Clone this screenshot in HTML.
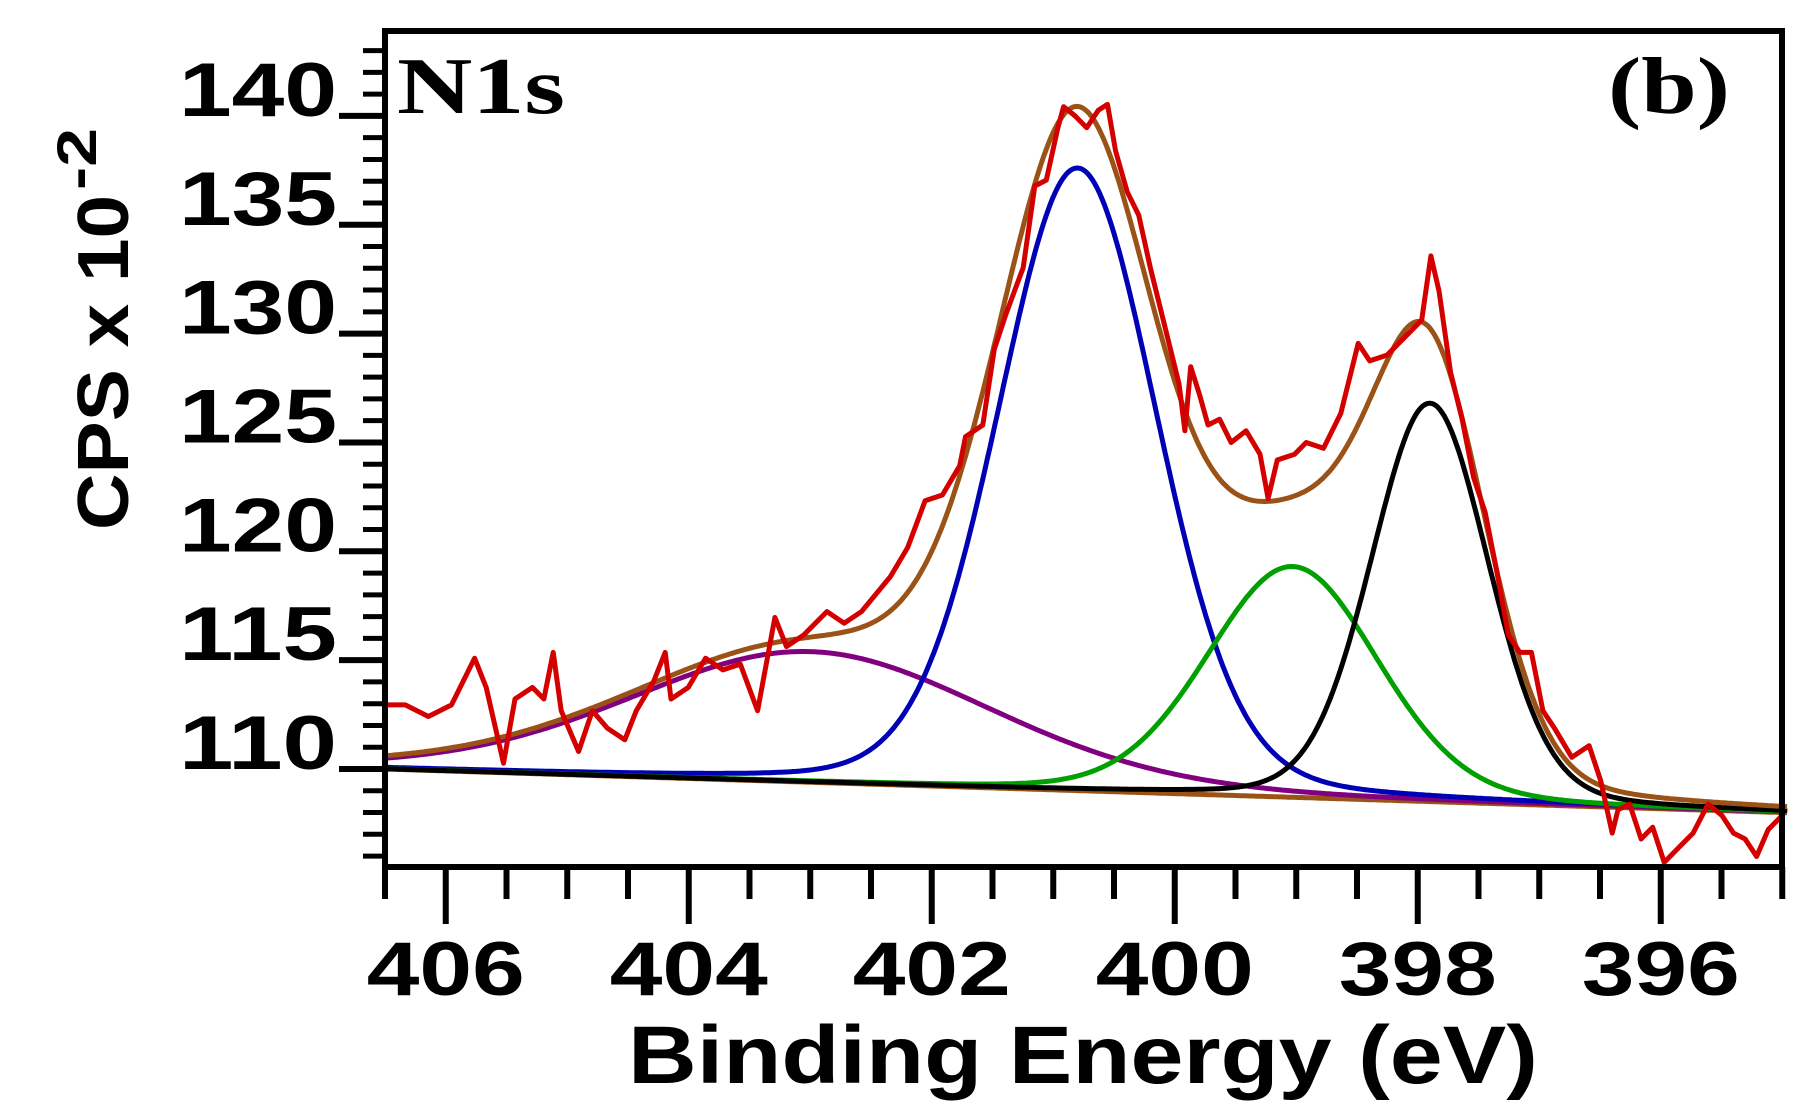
<!DOCTYPE html>
<html><head><meta charset="utf-8"><style>
html,body{margin:0;padding:0;background:#fff;}
svg{display:block;}
</style></head><body>
<svg id="s" width="1807" height="1119" xmlns="http://www.w3.org/2000/svg">
<rect width="1807" height="1119" fill="#fff"/>
<g id="curves"></g>
<g id="axes"></g>
<text x="397" y="113" textLength="168" lengthAdjust="spacingAndGlyphs" font-family="Liberation Serif, serif" font-weight="bold" font-size="80" fill="#000">N1s</text>
<text x="1608" y="113" textLength="122" lengthAdjust="spacingAndGlyphs" font-family="Liberation Serif, serif" font-weight="bold" font-size="80" fill="#000">(b)</text>
<g transform="translate(128,530) rotate(-90)">
<text x="0" y="0" textLength="335" lengthAdjust="spacingAndGlyphs" font-family="Liberation Sans, sans-serif" font-weight="bold" font-size="72" fill="#000">CPS x 10</text>
<text x="340" y="-32" textLength="62" lengthAdjust="spacingAndGlyphs" font-family="Liberation Sans, sans-serif" font-weight="bold" font-size="56" fill="#000">-2</text>
</g>
<text x="628" y="1083" textLength="910" lengthAdjust="spacingAndGlyphs" font-family="Liberation Sans, sans-serif" font-weight="bold" font-size="82" fill="#000">Binding Energy (eV)</text>
</svg>
<script>
var L=385,R=1782,T=31,B=867;
function X(x){return L+(406.5-x)*121.5;}
function Y(y){return 769-(y-110)*21.77;}
function base(x){return 110.0-(406.5-x)*(2.0/11.5);}
function pv(x,c,h,w){var s=w/2.355,g=Math.exp(-0.5*Math.pow((x-c)/s,2)),l=1/(1+Math.pow((x-c)/(w/2),2));return h*(0.85*g+0.15*l);}
var comps=[
 {c:403.0,h:6.0,w:3.5,col:"#800080"},
 {c:400.8,h:28.6,w:1.55,col:"#0000b4"},
 {c:399.03,h:10.6,w:1.66,col:"#00a000"},
 {c:397.9,h:18.3,w:1.14,col:"#000000"}
];
var NS="http://www.w3.org/2000/svg";
var cg=document.getElementById('curves');
function path(pts,col,w){var p=document.createElementNS(NS,'path');var d='';pts.forEach(function(q,i){d+=(i?'L':'M')+q[0].toFixed(1)+' '+q[1].toFixed(1);});p.setAttribute('d',d);p.setAttribute('stroke',col);p.setAttribute('stroke-width',w);p.setAttribute('fill','none');p.setAttribute('stroke-linejoin','round');cg.appendChild(p);}
var xs=[];for(var x=406.5;x>=394.95;x-=0.02)xs.push(x);
path(xs.map(function(x){return [X(x),Y(base(x))];}),"#9a5216",5);
comps.forEach(function(c){path(xs.map(function(x){return [X(x),Y(base(x)+pv(x,c.c,c.h,c.w))];}),c.col,5);});
path(xs.map(function(x){var s=base(x);comps.forEach(function(c){s+=pv(x,c.c,c.h,c.w);});return [X(x),Y(s)];}),"#9a5216",5);
var rp=[[335,605],[350,605],[370,615],[390,605],[410,565],[420,590],[435,655],[445,600],[460,590],[470,600],[478,560],[485,610],[500,645],[512,610],[525,625],[540,635],[550,610],[565,585],[575,560],[580,600],[595,590],[610,565],[625,575],[640,570],[655,610],[670,530],[680,555],[695,545],[715,525],[730,535],[745,525],[770,495],[785,470],[800,430],[815,425],[830,400],[835,375],[850,365],[860,300],[870,270],[885,230],[895,160],[905,155],[915,110],[920,92],[930,100],[940,110],[950,95],[958,90],[965,130],[975,165],[985,185],[995,230],[1010,290],[1020,330],[1025,370],[1030,315],[1038,340],[1045,365],[1055,360],[1065,380],[1078,370],[1090,390],[1097,428],[1105,395],[1120,390],[1130,380],[1145,385],[1160,355],[1175,295],[1185,310],[1200,305],[1215,290],[1230,275],[1238,220],[1245,250],[1255,320],[1265,360],[1275,410],[1285,440],[1295,490],[1305,545],[1315,560],[1325,560],[1335,610],[1345,625],[1360,650],[1375,640],[1385,670],[1395,715],[1400,695],[1410,690],[1420,720],[1430,710],[1440,740],[1445,735],[1455,725],[1465,715],[1478,690],[1490,700],[1500,715],[1510,720],[1520,735],[1530,712],[1548,700]];
path(rp.map(function(q){var x=406-(q[0]-385)/105.2,y=110+(660-q[1])/18.67;return [Math.min(Math.max(X(x),L),R),Y(y)];}),"#d40000",5);
var ag=document.getElementById('axes');
function line(x1,y1,x2,y2,w){var l=document.createElementNS(NS,'line');l.setAttribute('x1',x1);l.setAttribute('y1',y1);l.setAttribute('x2',x2);l.setAttribute('y2',y2);l.setAttribute('stroke','#000');l.setAttribute('stroke-width',w);ag.appendChild(l);}
function txt(x,y,s,len){var t=document.createElementNS(NS,'text');t.setAttribute('x',x);t.setAttribute('y',y);t.setAttribute('font-family','Liberation Sans, sans-serif');t.setAttribute('font-weight','bold');t.setAttribute('font-size','76');t.setAttribute('textLength',len);t.setAttribute('lengthAdjust','spacingAndGlyphs');t.textContent=s;ag.appendChild(t);}
var r=document.createElementNS(NS,'rect');r.setAttribute('x',L);r.setAttribute('y',T);r.setAttribute('width',R-L);r.setAttribute('height',B-T);r.setAttribute('fill','none');r.setAttribute('stroke','#000');r.setAttribute('stroke-width',6);ag.appendChild(r);
for(var v=106;v<=143;v++){var y=Y(v);if(y<T||y>B)continue;var maj=(v%5==0);line(L-(maj?46:22),y,L,y,maj?6:5);if(maj)txt(L-206,y,String(v),158);}
for(var k=0;k<=23;k++){var e=406.5-k*0.5;var x=X(e);if(x>R+2)continue;var maj=(Math.abs(e-Math.round(e))<0.01&&Math.round(e)%2==0);line(x,B,x,B+(maj?57:32),6);if(maj)txt(x-79,B+128,String(Math.round(e)),158);}
</script>
</body></html>
